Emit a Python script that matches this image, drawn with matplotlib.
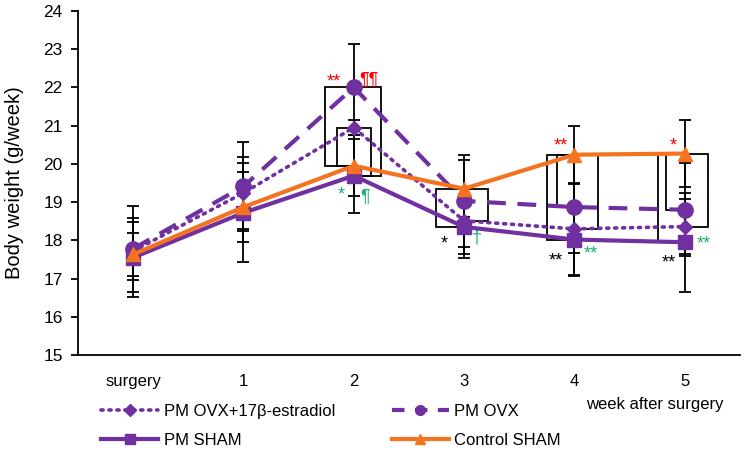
import numpy as np
import matplotlib
matplotlib.use('Agg')
import matplotlib.pyplot as plt
from matplotlib.lines import Line2D

plt.rcParams['font.family'] = ['Liberation Sans', 'DejaVu Sans']

# data
weeks = ['surgery', '1', '2', '3', '4', '5']
ovx_e2 = [17.72, 19.24, 20.95, 18.51, 18.30, 18.36]
ovx_e2_err = [0.76, 0.95, 0.20, 0.87, 1.20, 0.72]
ovx = [17.78, 19.41, 22.00, 19.03, 18.87, 18.80]
ovx_err = [1.12, 1.17, 1.13, 1.20, 1.20, 1.22]
sham = [17.55, 18.72, 19.69, 18.35, 18.02, 17.95]
sham_err = [1.03, 1.30, 0.97, 0.80, 0.95, 1.30]
ctrl = [17.63, 18.87, 19.95, 19.35, 20.24, 20.27]
ctrl_err = [0.56, 0.92, 0.80, 0.75, 0.76, 0.88]

purple = '#7030A0'
orange = '#F47320'
red = '#FF0000'
green = '#1DB071'

x = np.arange(len(weeks))

fig = plt.figure(figsize=(7.45, 4.51), dpi=100)
ax = fig.add_axes([0.1047, 0.2129, 0.8883, 0.7627])

series = {
    'e2': (ovx_e2, ovx_e2_err),
    'ovx': (ovx, ovx_err),
    'sham': (sham, sham_err),
    'ctrl': (ctrl, ctrl_err),
}

for key, (vals, err) in series.items():
    ax.errorbar(x, vals, yerr=err, fmt='none', ecolor='black', elinewidth=1.3,
                capsize=4.5, capthick=1.3, zorder=2)

ax.plot(x, ovx_e2, color=purple, lw=2.6, ls=(0, (0.6, 1.6)), dash_capstyle='round',
        marker='D', ms=7, zorder=3)
ax.plot(x, ovx, color=purple, lw=3, ls=(0, (4.5, 2.8)), marker='o', ms=11, zorder=3)
ax.plot(x, sham, color=purple, lw=3, marker='s', ms=10, zorder=3.1)
ax.plot(x, ctrl, color=orange, lw=3, marker='^', ms=10, zorder=3.2)

# significance brackets: (week, upper series, lower series, x offset)
brackets = [
    (2, 'ovx', 'ctrl', -0.26), (2, 'ovx', 'sham', 0.25),
    (2, 'e2', 'ctrl', -0.15), (2, 'e2', 'sham', 0.16),
    (3, 'ctrl', 'sham', -0.25), (3, 'ctrl', 'e2', 0.22),
    (4, 'ctrl', 'sham', -0.25), (4, 'ctrl', 'ovx', -0.16), (4, 'ctrl', 'e2', 0.21),
    (5, 'ctrl', 'sham', -0.245), (5, 'ctrl', 'ovx', -0.17), (5, 'ctrl', 'e2', 0.21),
]
for wk, a, b, off in brackets:
    ya = series[a][0][wk]
    yb = series[b][0][wk]
    ax.plot([wk, wk + off, wk + off, wk], [ya, ya, yb, yb], color='black', lw=1.3,
            zorder=2.5, solid_joinstyle='miter')

# significance marks
marks = [
    (1.82, 22.25, '**', red), (2.14, 22.2, '¶¶', red),
    (1.89, 19.3, '*', green), (2.1, 19.13, '¶', green),
    (2.82, 18.02, '*', 'black'), (3.12, 18.06, '†', green),
    (3.88, 20.58, '**', red), (3.83, 17.57, '**', 'black'), (4.15, 17.75, '**', green),
    (4.9, 20.58, '*', red), (4.86, 17.54, '**', 'black'), (5.17, 18.02, '**', green),
]
for mx, my, s, c in marks:
    if '*' in s:
        ax.text(mx, my - 0.12, s, color=c, fontsize=13, ha='center', va='center')
    else:
        ax.text(mx, my, s, color=c, fontsize=13, ha='center', va='center')

ax.set_xlim(-0.5, 5.5)
ax.set_ylim(15, 24)
ax.set_yticks(range(15, 25))
ax.set_xticks(x)
ax.set_xticklabels(weeks)
ax.tick_params(axis='y', labelsize=12.5, length=5, width=1.3, direction='out', pad=6)
ax.tick_params(axis='x', labelsize=12, length=0, pad=14)
for s in ['top', 'right']:
    ax.spines[s].set_visible(False)
for s in ['left', 'bottom']:
    ax.spines[s].set_linewidth(1.3)
ax.set_ylabel('Body weight (g/week)', fontsize=14.5, labelpad=14)
fig.text(0.971, 0.102, 'week after surgery', fontsize=12, ha='right', va='center')

handles = [
    Line2D([], [], color=purple, lw=2.6, ls=(0, (0.6, 1.6)), dash_capstyle='round', marker='D', ms=6),
    Line2D([], [], color=purple, lw=3, marker='s', ms=7),
    Line2D([], [], color=purple, lw=3, ls=(0, (3, 2.5)), marker='o', ms=7),
    Line2D([], [], color=orange, lw=3, marker='^', ms=7),
]
labels = ['PM OVX+17β-estradiol', 'PM SHAM', 'PM OVX', 'Control SHAM']
fig.legend(handles, labels, ncol=2, loc='center left', bbox_to_anchor=(0.136, 0.056),
           frameon=False, fontsize=12, handlelength=3.4, handletextpad=0.35,
           columnspacing=3.4, labelspacing=0.85, borderpad=0, borderaxespad=0)

fig.savefig('out.png', dpi=100)
